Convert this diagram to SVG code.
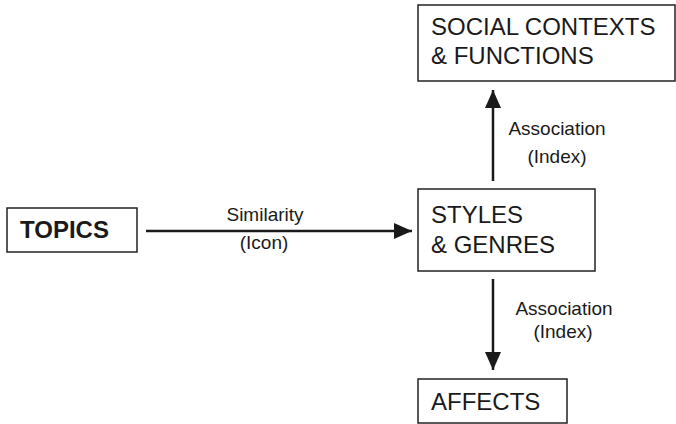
<svg xmlns="http://www.w3.org/2000/svg" width="676" height="424" viewBox="0 0 676 424">
<defs>
<style>
.box{fill:#fff;stroke:#222;stroke-width:1.5}
.t{font-family:"Liberation Sans",Arial,sans-serif;font-size:24px;fill:#1a1a1a}
.b{font-weight:bold}
.l{font-family:"Liberation Sans",Arial,sans-serif;font-size:19px;fill:#1a1a1a;text-anchor:middle}
.c{stroke:#1a1a1a;stroke-width:2.5;fill:none}
</style>
<marker id="ah" viewBox="0 0 18 16" refX="18" refY="8" markerWidth="18" markerHeight="16" markerUnits="userSpaceOnUse" orient="auto">
<path d="M0,0 L18,8 L0,16 z" fill="#1a1a1a"/>
</marker>
</defs>
<rect width="676" height="424" fill="#fff"/>
<g id="topics">
<rect class="box" x="7" y="208" width="130" height="44"/>
<text class="t b" x="20" y="238">TOPICS</text>
</g>
<g id="social">
<rect class="box" x="418" y="5" width="257" height="76"/>
<text class="t" x="431" y="35">SOCIAL CONTEXTS</text>
<text class="t" x="431" y="64">&amp; FUNCTIONS</text>
</g>
<g id="styles">
<rect class="box" x="418" y="189" width="177" height="82"/>
<text class="t" x="431" y="223">STYLES</text>
<text class="t" x="431" y="253">&amp; GENRES</text>
</g>
<g id="affects">
<rect class="box" x="418" y="379" width="149" height="44"/>
<text class="t" x="431" y="410">AFFECTS</text>
</g>
<g id="connectors">
<line class="c" x1="146" y1="231" x2="412" y2="231" marker-end="url(#ah)"/>
<line class="c" x1="493" y1="181" x2="493" y2="90" marker-end="url(#ah)"/>
<line class="c" x1="493" y1="279" x2="493" y2="370" marker-end="url(#ah)"/>
<text class="l" x="265" y="221">Similarity</text>
<text class="l" x="264" y="249">(Icon)</text>
<text class="l" x="557" y="135">Association</text>
<text class="l" x="557" y="163">(Index)</text>
<text class="l" x="564" y="315">Association</text>
<text class="l" x="563" y="338">(Index)</text>
</g>
</svg>
